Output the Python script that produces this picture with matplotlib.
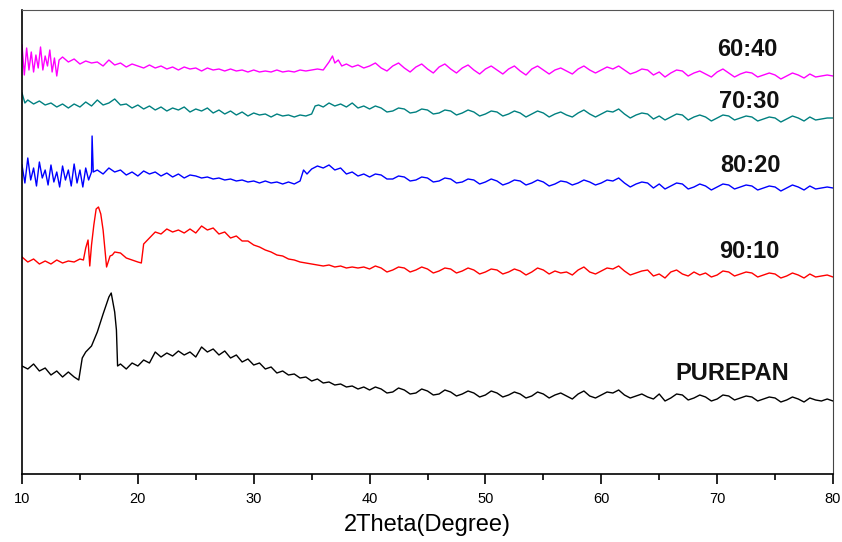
import numpy as np
import matplotlib.pyplot as plt
from matplotlib.ticker import MultipleLocator

plt.rcParams['font.family'] = ['Liberation Sans', 'DejaVu Sans']

# XRD patterns, intensity in arbitrary units (already stacked with offsets)
tail_x = list(np.arange(40, 80.5, 0.5))  # 40..80 sampled every 0.5 degree

# PUREPAN (black)
pan_x = [10, 10.5, 11, 11.5, 12, 12.5, 13, 13.5, 14, 14.5, 14.9, 15.2, 15.5, 16, 16.5, 17, 17.5, 17.7,
         18, 18.15, 18.25, 18.5, 19, 19.5, 20, 20.5, 21, 21.5, 22, 22.5, 23, 23.5, 24, 24.5, 25, 25.5,
         26, 26.5, 27, 27.5, 28, 28.5, 29, 29.5, 30, 30.5, 31, 31.5, 32, 32.5, 33, 33.5, 34, 34.5, 35,
         35.5, 36, 36.5, 37, 37.5, 38, 38.5, 39, 39.5] + tail_x
pan_y = [108, 105, 110, 103, 106, 99, 103, 97, 102, 97, 94, 116, 122, 128, 142, 160, 177, 181,
         162, 144, 108, 110, 105, 111, 108, 114, 111, 122, 117, 121, 118, 123, 119, 122, 117, 127,
         122, 125, 119, 123, 116, 119, 112, 115, 109, 111, 105, 107, 101, 103, 99, 100, 96, 97, 93,
         95, 91, 92, 89, 90, 87, 88, 85, 87,
         84, 87, 85, 81, 82, 86, 84, 80, 81, 85, 83, 79, 80, 84, 82, 78, 80, 83, 81, 77,
         79, 83, 81, 77, 79, 82, 80, 76, 78, 82, 80, 76, 79, 81, 78, 75, 80, 83, 78, 76,
         79, 82, 81, 84, 79, 76, 78, 80, 77, 75, 80, 73, 76, 80, 79, 74, 76, 79, 77, 73,
         75, 79, 78, 74, 76, 78, 77, 73, 75, 77, 76, 72, 74, 77, 75, 72, 76, 74, 73, 75, 73]

# 90:10 (red)
r_x = [10, 10.5, 11, 11.5, 12, 12.5, 13, 13.5, 14, 14.5, 15, 15.3, 15.5, 15.7, 15.85, 16.0, 16.2,
       16.4, 16.6, 16.8, 17.0, 17.3, 17.6, 17.8, 18.0, 18.5, 19, 19.5, 20, 20.3, 20.5, 21, 21.5,
       22, 22.5, 23, 23.5, 24, 24.5, 25, 25.5, 26, 26.5, 27, 27.5, 28, 28.5, 29, 29.5, 30, 30.5,
       31, 31.5, 32, 32.5, 33, 33.5, 34, 34.5, 35, 35.5, 36, 36.5, 37, 37.5, 38, 38.5, 39, 39.5] + tail_x
r_y = [217, 212, 215, 210, 213, 210, 214, 211, 213, 212, 215, 214, 226, 234, 208, 229, 249,
       265, 267, 260, 244, 207, 218, 219, 222, 221, 216, 214, 212, 211, 230, 236, 242,
       240, 245, 242, 244, 241, 245, 241, 248, 244, 246, 240, 242, 236, 238, 233, 233, 229, 227,
       224, 222, 219, 218, 215, 214, 212, 211, 210, 209, 208, 209, 207, 208, 206, 207, 206, 207,
       205, 208, 206, 202, 204, 207, 206, 202, 204, 207, 205, 201, 203, 206, 205, 201, 203, 206, 204, 200,
       202, 205, 204, 200, 202, 205, 203, 199, 202, 206, 204, 200, 203, 201, 202, 199, 204, 207, 202, 200,
       203, 206, 205, 208, 203, 199, 201, 203, 204, 198, 200, 196, 202, 204, 200, 198, 202, 199, 201, 197,
       199, 203, 202, 198, 200, 202, 201, 197, 199, 201, 200, 196, 198, 201, 199, 196, 200, 197, 198, 199,
       197]

# 80:20 (blue)
b_x = [10, 10.25, 10.5, 10.75, 11, 11.25, 11.5, 11.75, 12, 12.25, 12.5, 12.75, 13, 13.25, 13.5,
       13.75, 14, 14.25, 14.5, 14.75, 15, 15.25, 15.5, 15.75, 16.0, 16.05, 16.15, 16.5, 17, 17.5,
       18, 18.5, 19, 19.5, 20, 20.5, 21, 21.5, 22, 22.5, 23, 23.5, 24, 24.5, 25, 25.5, 26, 26.5,
       27, 27.5, 28, 28.5, 29, 29.5, 30, 30.5, 31, 31.5, 32, 32.5, 33, 33.5, 34.0, 34.3, 34.6, 35,
       35.5, 36, 36.5, 37, 37.5, 38, 38.5, 39, 39.5] + tail_x
b_y = [309, 291, 316, 294, 306, 288, 312, 296, 304, 289, 309, 292, 302, 287, 308,
       294, 304, 288, 310, 291, 304, 287, 306, 294, 302, 338, 302, 304, 300, 306,
       302, 304, 299, 302, 298, 303, 300, 302, 298, 301, 297, 300, 296, 299, 298, 296, 297, 295,
       296, 294, 295, 293, 294, 292, 293, 291, 293, 291, 292, 290, 292, 290, 293, 304, 300, 305,
       308, 306, 309, 304, 306, 300, 302, 298, 300,
       297, 300, 299, 295, 295, 298, 297, 293, 294, 297, 296, 292, 293, 296, 295, 291, 292, 295, 294, 290,
       292, 295, 293, 289, 291, 294, 293, 289, 291, 294, 292, 288, 290, 293, 292, 289, 291, 294, 292, 289,
       291, 294, 293, 296, 291, 287, 290, 292, 291, 286, 290, 285, 288, 291, 290, 285, 287, 290, 288, 284,
       287, 290, 289, 285, 287, 289, 288, 284, 286, 288, 287, 283, 286, 289, 287, 284, 288, 285, 286, 287,
       286]

# 70:30 (teal)
t_x = [10, 10.25, 10.5, 11, 11.5, 12, 12.5, 13, 13.5, 14, 14.5, 15, 15.5, 16, 16.5, 17, 17.5, 18,
       18.5, 19, 19.5, 20, 20.5, 21, 21.5, 22, 22.5, 23, 23.5, 24, 24.5, 25, 25.5, 26, 26.5, 27,
       27.5, 28, 28.5, 29, 29.5, 30, 30.5, 31, 31.5, 32, 32.5, 33, 33.5, 34, 34.5, 35, 35.3, 35.6,
       36, 36.5, 37, 37.5, 38, 38.5, 39, 39.5] + tail_x
t_y = [381, 371, 374, 370, 373, 369, 371, 367, 370, 366, 370, 367, 372, 368, 374, 369, 371, 375,
       369, 370, 366, 369, 365, 368, 364, 367, 363, 366, 364, 367, 362, 365, 363, 366, 361, 364,
       360, 363, 359, 362, 358, 361, 359, 360, 357, 360, 358, 359, 357, 359, 358, 360, 368, 369,
       367, 371, 368, 370, 367, 371, 366, 368,
       365, 368, 366, 362, 363, 366, 365, 361, 362, 365, 364, 360, 361, 364, 363, 359, 361, 364, 362, 358,
       360, 363, 362, 358, 360, 363, 361, 357, 360, 363, 361, 357, 360, 362, 359, 357, 361, 364, 360, 357,
       360, 363, 362, 365, 360, 356, 359, 361, 360, 355, 358, 354, 357, 360, 359, 354, 357, 359, 357, 353,
       356, 359, 358, 354, 356, 358, 357, 353, 355, 357, 356, 352, 355, 358, 356, 353, 357, 354, 355, 356,
       356]

# 60:40 (magenta)
m_x = [10, 10.2, 10.4, 10.6, 10.8, 11, 11.2, 11.4, 11.6, 11.8, 12, 12.2, 12.4, 12.6, 12.8, 13,
       13.2, 13.5, 14, 14.5, 15, 15.5, 16, 16.5, 17, 17.5, 18, 18.5, 19, 19.5, 20, 20.5, 21, 21.5,
       22, 22.5, 23, 23.5, 24, 24.5, 25, 25.5, 26, 26.5, 27, 27.5, 28, 28.5, 29, 29.5, 30, 30.5,
       31, 31.5, 32, 32.5, 33, 33.5, 34, 34.5, 35, 35.5, 36, 36.5, 36.8, 37, 37.3, 37.6, 38, 38.5,
       39, 39.5] + tail_x
m_y = [429, 399, 426, 404, 422, 402, 419, 406, 427, 404, 418, 408, 424, 402, 416, 398,
       414, 417, 412, 415, 410, 413, 411, 412, 408, 414, 409, 411, 407, 410, 408, 406, 409, 406,
       408, 405, 407, 404, 407, 405, 406, 403, 406, 404, 405, 403, 405, 403, 404, 402, 404, 402,
       403, 402, 404, 402, 403, 402, 404, 403, 404, 405, 404, 412, 418, 411, 414, 408, 410, 407,
       409, 406,
       408, 411, 406, 403, 408, 411, 406, 402, 407, 410, 405, 401, 407, 410, 405, 401, 406, 409, 404, 400,
       405, 408, 404, 400, 405, 408, 403, 399, 405, 408, 404, 400, 404, 406, 403, 400, 405, 408, 404, 401,
       404, 407, 405, 408, 404, 400, 402, 405, 404, 399, 402, 397, 401, 404, 403, 398, 401, 403, 400, 397,
       402, 405, 401, 397, 400, 402, 401, 397, 399, 401, 399, 395, 398, 401, 399, 396, 400, 397, 398, 399,
       398]

series = [
    (pan_x, pan_y, 'black', 'PUREPAN', 71.3, 100),
    (r_x, r_y, '#ff0000', '90:10', 72.8, 222),
    (b_x, b_y, '#0000ff', '80:20', 72.9, 308),
    (t_x, t_y, '#008080', '70:30', 72.8, 372),
    (m_x, m_y, '#ff00ff', '60:40', 72.6, 424),
]

fig = plt.figure(figsize=(8.42, 5.42), dpi=100)
ax = fig.add_axes([22 / 842, 68 / 542, 811 / 842, 464 / 542])

for xs, ys, col, name, lx, ly in series:
    ax.plot(xs, ys, color=col, lw=1.0)
    ax.text(lx, ly, name, ha='center', va='center', fontsize=17, fontweight='bold', color='#111111')

ax.set_xlim(10, 80)
ax.set_ylim(0, 464)
ax.set_yticks([])
ax.xaxis.set_major_locator(MultipleLocator(10))
ax.xaxis.set_minor_locator(MultipleLocator(5))
ax.tick_params(axis='x', which='major', direction='out', length=7, width=1.2, labelsize=10.5, pad=6)
ax.tick_params(axis='x', which='minor', direction='out', length=4, width=1.2)
ax.set_xlabel('2Theta(Degree)', fontsize=17, labelpad=6)

for side in ['left', 'bottom']:
    ax.spines[side].set_color('black')
    ax.spines[side].set_linewidth(1.2)
ax.spines['top'].set_color('#555555')
ax.spines['right'].set_color('#444444')

fig.savefig('out.png', dpi=100)
